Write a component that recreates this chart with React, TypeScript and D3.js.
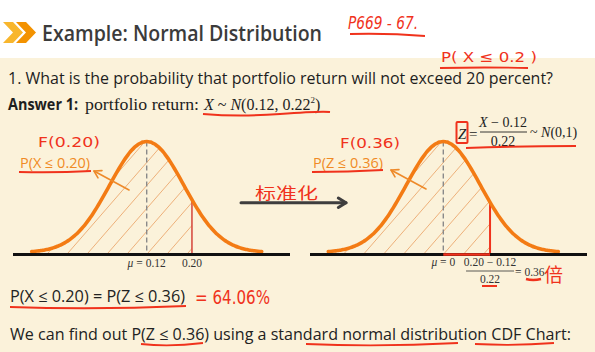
import React from 'react';
import * as d3 from 'd3';

// ---------- data ----------
const titleText = 'Example: Normal Distribution';
const questionText = '1. What is the probability that portfolio return will not exceed 20 percent?';
const meanValues = ['0.12', '0'];
const cutoffValues = ['0.20', '0.36'];
const probLabels = ['P(X ≤ 0.20)', 'P(Z ≤ 0.36)'];
const cdfNotes = ['F(0.20)', 'F(0.36)'];
// schematic position of the cut-off on the drawn bell (in sigma units of the drawing)
const cutoffSigma = [1.22, 1.26];
const zRange = [-3.1, 3.1];
const zGrid = d3.range(zRange[0], zRange[1] + 1e-9, 0.05);
const bell = (z: number) => Math.exp(-(z * z) / 2);

// ---------- layout ----------
const W = 595, H = 352;
const RED = '#F0321C';
const ORANGE = '#F37B14';
const panels = [
  { cx: 146.7, ax0: 13, ax1: 290 },
  { cx: 443.3, ax0: 310, ax1: 587 },
];
const baseY = 252.5, peakY = 141.5, axisY = 254.5, halfW = 115;
const hand = "'DejaVu Sans', sans-serif";
const serif = "'Liberation Serif', 'DejaVu Serif', serif";
const sans = "'Open Sans', 'Noto Sans', sans-serif";

function Arrow({ x1, y1, x2, y2, color, w, head }: any) {
  const a = Math.atan2(y2 - y1, x2 - x1);
  const s = 0.55;
  const p1 = [x2 - head * Math.cos(a - s), y2 - head * Math.sin(a - s)];
  const p2 = [x2 - head * Math.cos(a + s), y2 - head * Math.sin(a + s)];
  return (
    <g stroke={color} strokeWidth={w} fill="none" strokeLinecap="round" strokeLinejoin="round">
      <line x1={x1} y1={y1} x2={x2} y2={y2} />
      <polyline points={`${p1[0]},${p1[1]} ${x2},${y2} ${p2[0]},${p2[1]}`} />
    </g>
  );
}

function Panel({ i }: { i: number }) {
  const p = panels[i];
  const x = d3.scaleLinear().domain(zRange).range([p.cx - halfW, p.cx + halfW]);
  const y = d3.scaleLinear().domain([0, 1]).range([baseY, peakY]);
  const line = d3.line<number>().x((z) => x(z)).y((z) => y(bell(z))).curve(d3.curveBasis);
  const cut = cutoffSigma[i];
  const areaPts = zGrid.filter((z) => z < cut).concat([cut]);
  const area = d3.area<number>().x((z) => x(z)).y0(axisY - 1).y1((z) => y(bell(z)));
  const xc = x(cut);
  const hatchOffsets = d3.range(-9, 5).map((k) => p.cx + k * 20);
  const clipId = `clip${i}`;
  return (
    <g>
      <defs>
        <clipPath id={clipId}>
          <path d={area(areaPts) || ''} />
        </clipPath>
      </defs>
      <g clipPath={`url(#${clipId})`} stroke="#EDB07A" strokeWidth={1}>
        {hatchOffsets.map((o, k) => (
          <line key={k} x1={o} y1={axisY} x2={o + 130 * 0.87} y2={axisY - 130} />
        ))}
      </g>
      <line x1={p.cx} x2={p.cx} y1={y(1)} y2={axisY} stroke="#8a8a8a" strokeWidth={1.4} strokeDasharray="5,3" />
      <line x1={xc} x2={xc} y1={y(bell(cut))} y2={axisY} stroke={i === 0 ? '#D5443A' : RED} strokeWidth={i === 0 ? 1.5 : 2} />
      <path d={line(zGrid) || ''} fill="none" stroke={ORANGE} strokeWidth={3.6} strokeLinecap="round" />
      <line x1={p.ax0} x2={p.ax1} y1={axisY} y2={axisY} stroke="#111" strokeWidth={3} />
    </g>
  );
}

export default function App() {
  const xl = d3.scaleLinear().domain(zRange).range([panels[0].cx - halfW, panels[0].cx + halfW]);
  const xr = d3.scaleLinear().domain(zRange).range([panels[1].cx - halfW, panels[1].cx + halfW]);
  const cutL = xl(cutoffSigma[0]);
  const cutR = xr(cutoffSigma[1]);
  return (
    <svg width={W} height={H} viewBox={`0 0 ${W} ${H}`} style={{ position: 'absolute', left: 0, top: 0 }}>
      <rect x={0} y={0} width={W} height={H} fill="#ffffff" />
      <rect x={0} y={58} width={W} height={H - 58} fill="#FBF2DA" />

      {/* header */}
      <polygon points="3,22 13,22 23,32.5 13,43 3,43 13,32.5" fill="#F8B62D" />
      <polygon points="16,22 26,22 36,32.5 26,43 16,43 26,32.5" fill="#F39200" />
      <text x={42} y={41} fontFamily={sans} fontWeight={600} fontSize={21} fill="#3B3B3B" textLength={280} lengthAdjust="spacingAndGlyphs">{titleText}</text>

      {/* handwritten page note */}
      <text x={348} y={29} fontFamily={hand} fontSize={17} fill={RED} textLength={70} lengthAdjust="spacingAndGlyphs" fontStyle="italic">P669 - 67.</text>
      <path d="M350,34 Q388,33 425,36" stroke={RED} strokeWidth={2} fill="none" />
      <text x={441} y={62} fontFamily={hand} fontSize={14} fill={RED} textLength={96} lengthAdjust="spacingAndGlyphs">P( X ≤ 0.2 )</text>
      <path d="M440,68 Q485,67 528,68" stroke={RED} strokeWidth={1.8} fill="none" />

      {/* question */}
      <text x={8} y={84} fontFamily={sans} fontSize={17} fill="#1E1E1E" textLength={545} lengthAdjust="spacingAndGlyphs">{questionText}</text>
      <text x={8} y={110} fontFamily={sans} fontWeight={700} fontSize={16} fill="#1E1E1E" textLength={70} lengthAdjust="spacingAndGlyphs">Answer 1:</text>
      <text x={85} y={110} fontFamily={serif} fontSize={16} fill="#1E1E1E" textLength={114} lengthAdjust="spacingAndGlyphs">portfolio return:</text>
      <text x={204} y={110} fontFamily={serif} fontSize={16} fill="#1E1E1E">
        <tspan fontStyle="italic">X</tspan>
        <tspan> ~ </tspan>
        <tspan fontStyle="italic">N</tspan>
        <tspan>(0.12, 0.22</tspan>
        <tspan fontSize={9} dy={-7}>2</tspan>
        <tspan dy={7}>)</tspan>
      </text>
      <path d="M203,114 Q240,117 280,114 T330,112" stroke={RED} strokeWidth={2} fill="none" />

      {/* standardization formula */}
      <text x={458} y={139} fontFamily={serif} fontStyle="italic" fontSize={15} fill="#222">Z</text>
      <text x={469} y={139} fontFamily={serif} fontSize={15} fill="#222">=</text>
      <text x={503} y={127} textAnchor="middle" fontFamily={serif} fontSize={14} fill="#222">
        <tspan fontStyle="italic">X</tspan> − 0.12
      </text>
      <line x1={480} x2={527} y1={132} y2={132} stroke="#222" strokeWidth={0.9} />
      <text x={503} y={146} textAnchor="middle" fontFamily={serif} fontSize={14} fill="#222">0.22</text>
      <text x={530} y={137} fontFamily={serif} fontSize={14} fill="#222">
        ~ <tspan fontStyle="italic">N</tspan>(0,1)
      </text>
      <rect x={456.5} y={122} width={11} height={21} fill="none" stroke={RED} strokeWidth={2} rx={1} />
      <path d="M466,148 Q520,146 576,146" stroke={RED} strokeWidth={2} fill="none" />

      {/* panels */}
      <Panel i={0} />
      <Panel i={1} />
      <line x1={panels[1].cx} x2={cutR} y1={axisY} y2={axisY} stroke={RED} strokeWidth={2.6} />

      {/* labels under axes */}
      <text x={panels[0].cx} y={267} textAnchor="middle" fontFamily={serif} fontSize={11.5} fill="#333">
        <tspan fontStyle="italic">μ</tspan> = {meanValues[0]}
      </text>
      <text x={cutL} y={267} textAnchor="middle" fontFamily={serif} fontSize={11.5} fill="#333">{cutoffValues[0]}</text>
      <text x={panels[1].cx} y={266} textAnchor="middle" fontFamily={serif} fontSize={11.5} fill="#333">
        <tspan fontStyle="italic">μ</tspan> = {meanValues[1]}
      </text>
      <text x={cutR} y={266} textAnchor="middle" fontFamily={serif} fontSize={11.5} fill="#333">{cutoffValues[0]} − {meanValues[0]}</text>
      <line x1={cutR - 24} x2={cutR + 24} y1={271} y2={271} stroke="#333" strokeWidth={0.8} />
      <text x={cutR} y={283} textAnchor="middle" fontFamily={serif} fontSize={11.5} fill="#333">0.22</text>
      <text x={515} y={276} fontFamily={serif} fontSize={11.5} fill="#333">= {cutoffValues[1]}</text>
      <path d="M482,286 L497,286" stroke={RED} strokeWidth={2} />
      <path d="M526,279 Q533,281 541,279" stroke={RED} strokeWidth={2.4} fill="none" />
      <text x={544} y={282} fontFamily="'Noto Sans CJK SC', sans-serif" fontSize={19} fill={RED}>倍</text>

      {/* probability labels and notes */}
      <text x={38} y={147} fontFamily={hand} fontSize={14} fill={RED} textLength={62} lengthAdjust="spacingAndGlyphs">{cdfNotes[0]}</text>
      <text x={20} y={168} fontFamily={sans} fontSize={14} fill="#F08A24" textLength={70} lengthAdjust="spacingAndGlyphs">{probLabels[0]}</text>
      <path d="M19,172 Q55,173 91,171" stroke={RED} strokeWidth={2} fill="none" />
      <Arrow x1={129} y1={190} x2={94} y2={171} color="#EE8A2A" w={1.6} head={8} />

      <text x={340} y={148} fontFamily={hand} fontSize={14} fill={RED} textLength={60} lengthAdjust="spacingAndGlyphs">{cdfNotes[1]}</text>
      <text x={313} y={168} fontFamily={sans} fontSize={14} fill="#F08A24" textLength={70} lengthAdjust="spacingAndGlyphs">{probLabels[1]}</text>
      <path d="M312,172 Q348,172 383,170" stroke={RED} strokeWidth={2} fill="none" />
      <Arrow x1={426} y1={189} x2={391} y2={170} color="#EE8A2A" w={1.6} head={8} />

      {/* transformation arrow */}
      <Arrow x1={241} y1={202.7} x2={346} y2={202.7} color="#3E3E3E" w={3} head={9} />
      <text x={255} y={199} fontFamily="'Noto Sans CJK SC', sans-serif" fontSize={16} fill={RED} textLength={63} lengthAdjust="spacingAndGlyphs">标准化</text>

      {/* bottom lines */}
      <text x={10} y={302} fontFamily={sans} fontSize={16} fill="#222" textLength={175} lengthAdjust="spacingAndGlyphs">P(X ≤ 0.20) = P(Z ≤ 0.36)</text>
      <path d="M10,307 Q95,310 186,306" stroke={RED} strokeWidth={2} fill="none" />
      <text x={195} y={304} fontFamily={hand} fontSize={19} fill={RED} textLength={75} lengthAdjust="spacingAndGlyphs">= 64.06%</text>

      <text x={10} y={340} fontFamily={sans} fontSize={16} fill="#222" textLength={561} lengthAdjust="spacingAndGlyphs">We can find out P(Z ≤ 0.36) using a standard normal distribution CDF Chart:</text>
      <path d="M141,344 Q170,347 203,343" stroke={RED} strokeWidth={1.8} fill="none" />
      <path d="M306,344 Q380,347 458,343" stroke={RED} strokeWidth={1.8} fill="none" />
      <path d="M475,344 Q515,346 554,343" stroke={RED} strokeWidth={1.8} fill="none" />
    </svg>
  );
}
